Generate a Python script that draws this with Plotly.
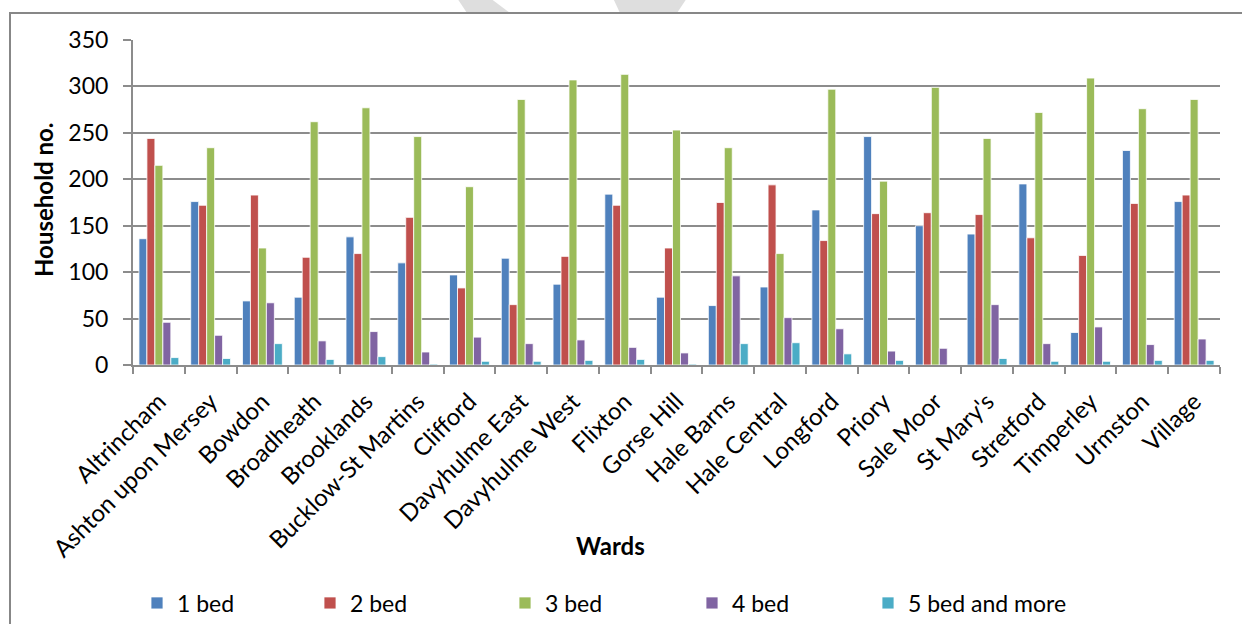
import plotly.graph_objects as go

wards = ["Altrincham", "Ashton upon Mersey", "Bowdon", "Broadheath", "Brooklands",
         "Bucklow-St Martins", "Clifford", "Davyhulme East", "Davyhulme West", "Flixton",
         "Gorse Hill", "Hale Barns", "Hale Central", "Longford", "Priory", "Sale Moor",
         "St Mary's", "Stretford", "Timperley", "Urmston", "Village"]

bed1 = [136, 176, 69, 73, 138, 110, 97, 115, 87, 184, 73, 64, 84, 167, 246, 150, 141, 195, 35, 231, 176]
bed2 = [244, 172, 183, 116, 120, 159, 83, 65, 117, 172, 126, 175, 194, 134, 163, 164, 162, 137, 118, 174, 183]
bed3 = [215, 234, 126, 262, 277, 246, 192, 286, 307, 313, 253, 234, 120, 297, 198, 299, 244, 272, 309, 276, 286]
bed4 = [46, 32, 67, 26, 36, 14, 30, 23, 27, 19, 13, 96, 51, 39, 15, 18, 65, 23, 41, 22, 28]
bed5 = [8, 7, 23, 6, 9, 1, 4, 4, 5, 6, 1, 23, 24, 12, 5, 0, 7, 4, 4, 5, 5]

series_names = ["1 bed", "2 bed", "3 bed", "4 bed", "5 bed and more"]
series_values = [bed1, bed2, bed3, bed4, bed5]
colors = ["#4F81BD", "#C0504D", "#9BBB59", "#8064A2", "#4BACC6"]
legend_ids = ["legend", "legend2", "legend3", "legend4", "legend5"]
legend_px = [137, 310, 505, 692, 868]

FONT = "Lato"
W, H = 1242, 624
L, R, T, B = 133, 22, 40, 259
pw, ph = W - L - R, H - T - B

def px_x(p):
    return (p - L) / pw

def px_y(p):
    return (H - B - p) / ph

def poly(points):
    return "M " + " L ".join(f"{px_x(x):.5f},{px_y(y):.5f}" for x, y in points) + " Z"

fig = go.Figure()
for name, vals, c, lid in zip(series_names, series_values, colors, legend_ids):
    fig.add_trace(go.Bar(
        x=wards, y=vals, name=name, legend=lid,
        marker=dict(color=c, line=dict(color="white", width=0.8)),
    ))

legend_layouts = {}
for lid, lx in zip(legend_ids, legend_px):
    legend_layouts[lid] = dict(
        orientation="h", x=px_x(lx), y=px_y(603), xanchor="left", yanchor="middle",
        font=dict(family=FONT, size=23, color="black"),
        itemwidth=30, bgcolor="rgba(0,0,0,0)",
    )

grid = "#8C8C8C"
fig.update_layout(
    width=W, height=H,
    margin=dict(l=L, r=R, t=T, b=B, autoexpand=False),
    paper_bgcolor="white", plot_bgcolor="white",
    barmode="group", bargap=0.23, bargroupgap=0,
    font=dict(family=FONT, size=23, color="black"),
    showlegend=True,
    xaxis=dict(
        showgrid=False, showline=True, linecolor=grid, linewidth=2,
        ticks="outside", ticklen=7, tickcolor=grid, tickwidth=2,
        tickson="boundaries", tickangle=-45, ticklabelstandoff=11,
        tickfont=dict(family=FONT, size=24, color="black"),
    ),
    yaxis=dict(
        range=[0, 350], dtick=50, showgrid=True, gridcolor=grid, gridwidth=2,
        showline=True, linecolor=grid, linewidth=2, zeroline=False,
        ticks="outside", ticklen=8, tickcolor=grid, tickwidth=2,
        ticklabelstandoff=10,
        tickfont=dict(family=FONT, size=23, color="black"),
    ),
    annotations=[
        dict(text="<b>Household no.</b>", x=px_x(43), y=px_y(200), xref="paper", yref="paper",
             showarrow=False, textangle=-90, font=dict(family=FONT, size=24, color="black"),
             xanchor="center", yanchor="middle"),
        dict(text="<b>Wards</b>", x=px_x(610), y=px_y(545), xref="paper", yref="paper",
             showarrow=False, font=dict(family=FONT, size=24, color="black"),
             xanchor="center", yanchor="middle"),
    ],
    shapes=[
        dict(type="path", xref="paper", yref="paper",
             path=poly([(457, -2), (490, -2), (510, 13), (467, 13)]),
             line=dict(width=0), fillcolor="#DEDEDE", layer="below"),
        dict(type="path", xref="paper", yref="paper",
             path=poly([(613, -2), (687, -2), (677, 13), (620, 13)]),
             line=dict(width=0), fillcolor="#DEDEDE", layer="below"),
        dict(type="rect", xref="paper", yref="paper",
             x0=px_x(10), x1=px_x(1260), y0=px_y(650), y1=px_y(13),
             line=dict(color="#878787", width=2), fillcolor="rgba(0,0,0,0)", layer="below"),
    ],
    **legend_layouts,
)

fig.write_html("out.html", config={"displayModeBar": False},
               post_script="document.body.style.margin='0';")
